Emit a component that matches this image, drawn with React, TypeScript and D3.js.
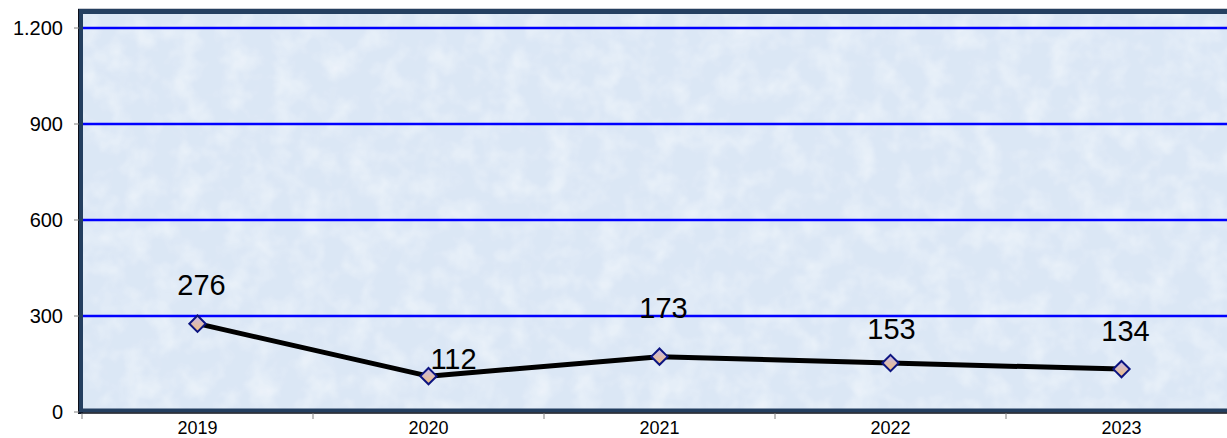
import React from "react";
import * as d3 from "d3";

const categories = ["2019", "2020", "2021", "2022", "2023"];
const values = [276, 112, 173, 153, 134];
const yTicks = [0, 300, 600, 900, 1200];
const yTickLabels = ["0", "300", "600", "900", "1.200"];
// label offsets (dx, dy) relative to each point
const labelDx = [4, 25, 4, 1, 4];
const labelDy = [-39, -17, -49, -34, -38];

const W = 1227;
const H = 438;

export default function App() {
  const x = d3.scaleBand<string>().domain(categories).range([82, 82 + 5 * 231]);
  const y = d3.scaleLinear().domain([0, 1200]).range([412, 28]);
  const cx = (c: string) => (x(c) as number) + x.bandwidth() / 2;
  const line = d3
    .line<number>()
    .x((_, i) => cx(categories[i]))
    .y((d) => y(d));
  const diamond = d3.symbol().type((d3 as any).symbolDiamond2 ?? d3.symbolDiamond).size(170)();
  const bounds = [0, 1, 2, 3, 4, 5].map((i) => 82 + i * x.step());

  return (
    <svg width={W} height={H} style={{ position: "absolute", left: 0, top: 0, fontFamily: "Arial, 'Liberation Sans', sans-serif" }}>
      <defs>
        <filter id="tex" x="0" y="0" width="100%" height="100%">
          <feTurbulence type="fractalNoise" baseFrequency="0.04" numOctaves="3" seed="4" result="n" />
          <feColorMatrix
            in="n"
            type="matrix"
            values="0 0 0 0 1  0 0 0 0 1  0 0 0 0 1  0 0 0 1 -0.4"
            result="w"
          />
          <feComposite in="w" in2="SourceGraphic" operator="in" />
        </filter>
        <linearGradient id="mk" x1="0" y1="0" x2="0" y2="1">
          <stop offset="0" stopColor="#c4b6ee" />
          <stop offset="1" stopColor="#f3c079" />
        </linearGradient>
      </defs>
      <rect x={0} y={0} width={W} height={H} fill="#ffffff" />
      {/* plot background */}
      <rect x={82} y={12} width={W} height={400} fill="#dbe7f5" />
      <rect x={82} y={12} width={W} height={400} fill="#eef4fb" filter="url(#tex)" opacity={0.9} />
      {/* gridlines */}
      {yTicks.slice(1).map((t) => (
        <line key={t} x1={82} x2={W} y1={y(t)} y2={y(t)} stroke="#0000ff" strokeWidth={2.5} />
      ))}
      {/* frame */}
      <line x1={78} x2={W} y1={8.5} y2={8.5} stroke="#c9ccd2" strokeWidth={1} />
      <line x1={79} x2={W} y1={11.5} y2={11.5} stroke="#243f60" strokeWidth={5} />
      <line x1={80.5} x2={80.5} y1={9} y2={414} stroke="#243f60" strokeWidth={5} />
      <line x1={78.5} x2={78.5} y1={9} y2={414} stroke="#0b0f1a" strokeWidth={1} />
      <line x1={79} x2={W} y1={410.5} y2={410.5} stroke="#243f60" strokeWidth={4} />
      <line x1={79} x2={W} y1={413} y2={413} stroke="#0b0f1a" strokeWidth={1.5} />
      {/* y ticks */}
      {yTicks.map((t, i) => (
        <g key={t}>
          <line x1={74} x2={79} y1={y(t)} y2={y(t)} stroke="#808080" strokeWidth={1} />
          <text x={63} y={y(t)} dy="0.35em" textAnchor="end" fontSize={20} fill="#000">
            {yTickLabels[i]}
          </text>
        </g>
      ))}
      {/* x ticks */}
      {bounds.map((b, i) => (
        <line key={i} x1={b} x2={b} y1={413} y2={419} stroke="#808080" strokeWidth={1} />
      ))}
      {categories.map((c) => (
        <text key={c} x={cx(c)} y={434} textAnchor="middle" fontSize={18} fill="#000">
          {c}
        </text>
      ))}
      {/* line */}
      <path d={line(values) as string} fill="none" stroke="#000" strokeWidth={5} strokeLinejoin="round" />
      {values.map((v, i) => (
        <path
          key={i}
          d={diamond as string}
          transform={`translate(${cx(categories[i])},${y(v)})`}
          fill="url(#mk)"
          stroke="#0c1480"
          strokeWidth={2}
        />
      ))}
      {values.map((v, i) => (
        <text
          key={"l" + i}
          x={cx(categories[i]) + labelDx[i]}
          y={y(v) + labelDy[i]}
          dy="0.35em"
          textAnchor="middle"
          fontSize={29}
          fill="#000"
        >
          {v}
        </text>
      ))}
    </svg>
  );
}
